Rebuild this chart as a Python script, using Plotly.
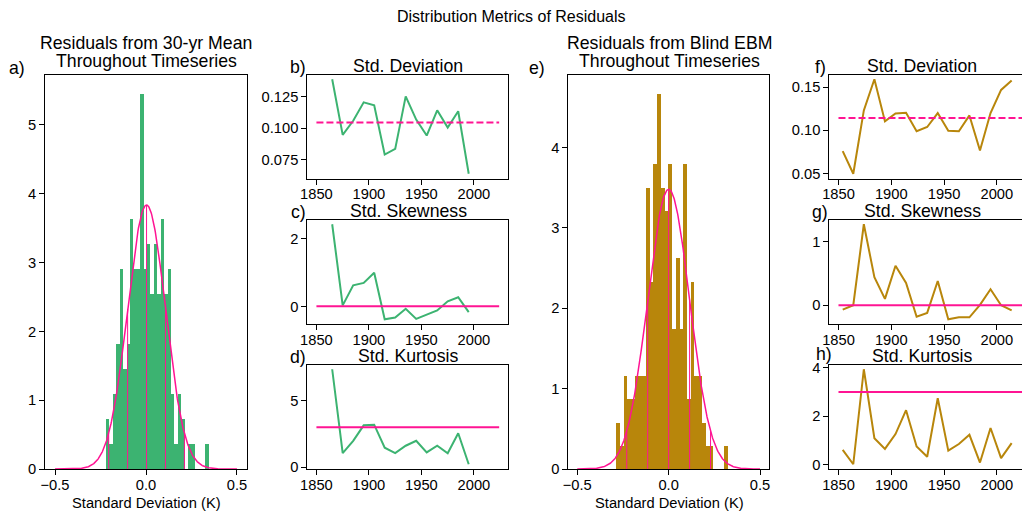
import numpy as np
import plotly.graph_objects as go

W, H = 1022, 516

# ---------------- data ----------------
years_30yr = [1865, 1875, 1885, 1895, 1905, 1915, 1925, 1935, 1945, 1955, 1965, 1975, 1985, 1995]
std_30yr = [0.139, 0.0947, 0.106, 0.1206, 0.1183, 0.0791, 0.0836, 0.1254, 0.1069, 0.0942, 0.1143, 0.1005, 0.1135, 0.0638]
skew_30yr = [2.42, 0.03, 0.62, 0.69, 0.99, -0.38, -0.33, -0.07, -0.37, -0.24, -0.12, 0.15, 0.27, -0.17]
kurt_30yr = [7.35, 1.06, 1.98, 3.14, 3.19, 1.46, 1.06, 1.61, 1.98, 1.11, 1.61, 1.04, 2.55, 0.22]

years_ebm = [1854, 1864, 1874, 1884, 1894, 1904, 1914, 1924, 1934, 1944, 1954, 1964, 1974, 1984, 1994, 2004, 2014]
std_ebm = [0.0759, 0.0498, 0.123, 0.159, 0.1103, 0.1195, 0.1203, 0.0989, 0.1038, 0.1199, 0.0996, 0.0989, 0.1172, 0.0766, 0.1199, 0.1467, 0.1575]
skew_ebm = [-0.07, 0.0, 1.27, 0.44, 0.10, 0.62, 0.35, -0.18, -0.12, 0.38, -0.22, -0.19, -0.19, 0.005, 0.25, 0.0, -0.08]
kurt_ebm = [0.62, 0.03, 3.93, 1.10, 0.66, 1.27, 2.25, 0.76, 0.34, 2.74, 0.59, 0.86, 1.24, 0.10, 1.52, 0.28, 0.90]

ref_years = [1850, 2024]
ref_std_30yr = 0.1045
ref_std_ebm = 0.1142
ref_skew = 0.0
ref_kurt = 3.0

# histogram counts (30 bins) and bin range
hist_30yr_counts = [2, 1, 3, 5, 8, 4, 5, 10, 8, 8, 15, 8, 9, 7, 9, 7, 10, 7, 8, 3, 1, 3, 2, 0, 1, 1, 0, 0, 0, 1]
hist_30yr_range = [-0.220, 0.3445]
fit_30yr = {"mean": 0.003, "sigma": 0.104}

hist_ebm_counts = [2, 1, 4, 3, 3, 4, 4, 4, 12, 8, 13, 16, 12, 11, 13, 6, 9, 6, 13, 3, 8, 4, 4, 2, 1, 1, 0, 0, 0, 1]
hist_ebm_range = [-0.285, 0.326]
fit_ebm = {"mean": 0.0, "sigma": 0.1146}

# ---------------- styling ----------------
GREEN = "#3cb371"
GOLD = "#b8860b"
PINK = "#ff1493"
FONT = "Liberation Sans, Arial, sans-serif"
TICK = 14.7
TITLE = 17.7
SUPT = 16

def dom_x(x0, x1):
    return [x0 / W, x1 / W]

def dom_y(y0, y1):
    return [1 - y1 / H, 1 - y0 / H]

TOP, BOT = 74.5, 469.0
boxes = {
    1: (45, 247, TOP, BOT),          # a
    2: (307.3, 508.3, 74.5, 178.5),  # b
    3: (307.3, 508.3, 219.5, 324),   # c
    4: (307.3, 508.3, 364.5, 469),   # d
    5: (568.3, 769, TOP, BOT),       # e
    6: (829.3, 1022, 74.5, 178.5),   # f
    7: (829.3, 1022, 219.5, 324),    # g
    8: (829.3, 1022, 364.5, 469),    # h
}

fig = go.Figure()

def axname(i, ax):
    return ax if i == 1 else f"{ax}{i}"

def add_hist(i, counts, rng, fit, color):
    counts = np.array(counts, dtype=float)
    nb = len(counts)
    edges = np.linspace(rng[0], rng[1], nb + 1)
    width = edges[1] - edges[0]
    dens = counts / (counts.sum() * width)
    centers = 0.5 * (edges[:-1] + edges[1:])
    fig.add_trace(go.Bar(x=centers, y=dens, width=width, marker=dict(color=color, line=dict(width=0)),
                         xaxis=axname(i, "x"), yaxis=axname(i, "y"), showlegend=False, hoverinfo="skip"))
    m, s = fit["mean"], fit["sigma"]
    xs = np.linspace(-0.5, 0.5, 400)
    pdf = lambda x: np.exp(-0.5 * ((x - m) / s) ** 2) / (s * np.sqrt(2 * np.pi))
    fig.add_trace(go.Scatter(x=xs, y=pdf(xs), mode="lines", line=dict(color=PINK, width=1.5),
                             xaxis=axname(i, "x"), yaxis=axname(i, "y"), showlegend=False, hoverinfo="skip"))
    vx, vy = [], []
    for k in [-2, -1, 0, 1, 2]:
        xv = m + k * s
        vx += [xv, xv, None]
        vy += [0, pdf(xv), None]
    fig.add_trace(go.Scatter(x=vx, y=vy, mode="lines", line=dict(color=PINK, width=1),
                             xaxis=axname(i, "x"), yaxis=axname(i, "y"), showlegend=False, hoverinfo="skip"))
    return dens.max()

def add_line(i, xs, ys, color, ref, dash):
    fig.add_trace(go.Scatter(x=xs, y=ys, mode="lines", line=dict(color=color, width=2),
                             xaxis=axname(i, "x"), yaxis=axname(i, "y"), showlegend=False, hoverinfo="skip"))
    fig.add_trace(go.Scatter(x=ref_years, y=[ref, ref], mode="lines",
                             line=dict(color=PINK, width=2, dash="7px,3px" if dash else "solid"),
                             xaxis=axname(i, "x"), yaxis=axname(i, "y"), showlegend=False, hoverinfo="skip"))

ma = add_hist(1, hist_30yr_counts, hist_30yr_range, fit_30yr, GREEN)
me = add_hist(5, hist_ebm_counts, hist_ebm_range, fit_ebm, GOLD)
add_line(2, years_30yr, std_30yr, GREEN, ref_std_30yr, True)
add_line(3, years_30yr, skew_30yr, GREEN, ref_skew, False)
add_line(4, years_30yr, kurt_30yr, GREEN, ref_kurt, False)
add_line(6, years_ebm, std_ebm, GOLD, ref_std_ebm, True)
add_line(7, years_ebm, skew_ebm, GOLD, ref_skew, False)
add_line(8, years_ebm, kurt_ebm, GOLD, ref_kurt, False)

def margin_range(vals, extra=None):
    v = list(vals) + ([extra] if extra is not None else [])
    lo, hi = min(v), max(v)
    p = 0.05 * (hi - lo)
    return [lo - p, hi + p]

common = dict(showgrid=False, zeroline=False, showline=True, linecolor="black", linewidth=1,
              ticks="outside", ticklen=5, tickwidth=1, tickcolor="black", automargin=False,
              tickfont=dict(family=FONT, size=TICK, color="black"))

layout = {}
yr_range_left = [1841.3, 2032.7]
yr_range_right = [1841.3, 2023.8]
yr_ticks = [1850, 1900, 1950, 2000]

cfg = {
    1: dict(xr=[-0.555, 0.555], xt=[-0.5, 0.0, 0.5], xtt=["−0.5", "0.0", "0.5"], yr=[0, ma * 1.05], yt=[0, 1, 2, 3, 4, 5], ytt=None),
    5: dict(xr=[-0.549, 0.549], xt=[-0.5, 0.0, 0.5], xtt=["−0.5", "0.0", "0.5"], yr=[0, me * 1.05], yt=[0, 1, 2, 3, 4], ytt=None),
    2: dict(xr=yr_range_left, xt=yr_ticks, xtt=None, yr=margin_range(std_30yr, ref_std_30yr), yt=[0.075, 0.100, 0.125], ytt=["0.075", "0.100", "0.125"]),
    3: dict(xr=yr_range_left, xt=yr_ticks, xtt=None, yr=margin_range(skew_30yr, ref_skew), yt=[0, 2], ytt=None),
    4: dict(xr=yr_range_left, xt=yr_ticks, xtt=None, yr=margin_range(kurt_30yr, ref_kurt), yt=[0, 5], ytt=None),
    6: dict(xr=yr_range_right, xt=yr_ticks, xtt=None, yr=margin_range(std_ebm, ref_std_ebm), yt=[0.05, 0.10, 0.15], ytt=["0.05", "0.10", "0.15"]),
    7: dict(xr=yr_range_right, xt=yr_ticks, xtt=None, yr=margin_range(skew_ebm, ref_skew), yt=[0, 1], ytt=None),
    8: dict(xr=yr_range_right, xt=yr_ticks, xtt=None, yr=margin_range(kurt_ebm, ref_kurt), yt=[0, 2, 4], ytt=None),
}

for i, (x0, x1, y0, y1) in boxes.items():
    c = cfg[i]
    xa = dict(common, domain=dom_x(x0, x1), range=c["xr"], anchor=axname(i, "y"),
              tickvals=c["xt"], mirror=True, ticklabelstandoff=-3)
    xa["ticktext"] = c["xtt"] if c["xtt"] is not None else [str(t) for t in c["xt"]]
    ya = dict(common, domain=dom_y(y0, y1), range=c["yr"], anchor=axname(i, "x"),
              tickvals=c["yt"], mirror=(i not in (6, 7, 8)))
    ya["ticktext"] = c["ytt"] if c["ytt"] is not None else [str(t) for t in c["yt"]]
    layout[axname(i, "xaxis")] = xa
    layout[axname(i, "yaxis")] = ya

annotations = []
def txt(x, y, s, size=TITLE, xanchor="center"):
    annotations.append(dict(x=x / W, y=1 - y / H, xref="paper", yref="paper", text=s, showarrow=False,
                            xanchor=xanchor, yanchor="middle", font=dict(family=FONT, size=size, color="black")))

txt(511, 16, "Distribution Metrics of Residuals", size=SUPT)
txt(146, 43, "Residuals from 30-yr Mean")
txt(146, 61, "Throughout Timeseries")
txt(669, 43, "Residuals from Blind EBM")
txt(669, 61, "Throughout Timeseries")
txt(408, 66, "Std. Deviation")
txt(408, 211, "Std. Skewness")
txt(408, 356, "Std. Kurtosis")
txt(922, 66, "Std. Deviation")
txt(922, 211, "Std. Skewness")
txt(922, 356, "Std. Kurtosis")
txt(146, 503, "Standard Deviation (K)", size=TICK)
txt(669, 503, "Standard Deviation (K)", size=TICK)
for lab, x, y in [("a)", 17, 68), ("b)", 298, 67), ("c)", 298, 212), ("d)", 298, 357),
                  ("e)", 537, 68), ("f)", 820, 67), ("g)", 820, 212), ("h)", 824, 354)]:
    txt(x, y, lab)

fig.update_layout(width=W, height=H, margin=dict(l=0, r=0, t=0, b=0), plot_bgcolor="white",
                  paper_bgcolor="white", bargap=0, barmode="overlay", annotations=annotations,
                  font=dict(family=FONT, color="black"), **layout)

fig.write_html("out.html")
